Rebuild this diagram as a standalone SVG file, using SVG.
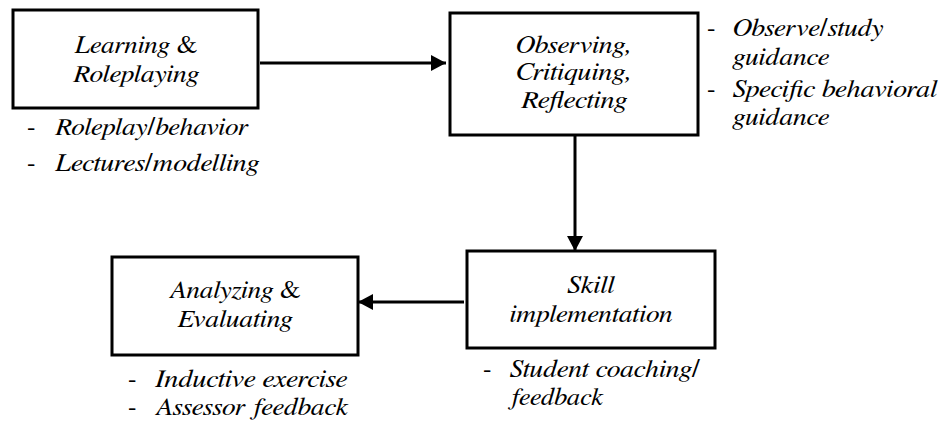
<svg xmlns="http://www.w3.org/2000/svg" width="945" height="423" viewBox="0 0 945 423">
<defs>
<style>
.box{fill:#fff;stroke:#000;stroke-width:3}
text{font-family:FreeSerif,'Liberation Serif','DejaVu Serif',serif;font-size:25px;fill:#000}
.t{font-style:italic}
.c{text-anchor:middle}
.u{font-style:normal}
.conn{stroke:#000;stroke-width:3;fill:none}
</style>
<marker id="ah" markerUnits="userSpaceOnUse" markerWidth="16" markerHeight="16" refX="15" refY="8" orient="auto">
<path d="M0,0 L15,8 L0,16 Z" fill="#000"/>
</marker>
</defs>
<rect width="945" height="423" fill="#fff"/>
<g id="connectors">
<line class="conn" x1="260" y1="63" x2="446" y2="63" marker-end="url(#ah)"/>
<line class="conn" x1="575" y1="135" x2="575" y2="251" marker-end="url(#ah)"/>
<line class="conn" x1="464" y1="302" x2="358" y2="302" marker-end="url(#ah)"/>
</g>
<g id="learning">
<rect class="box" x="13" y="10" width="245" height="98"/>
<text class="t c" x="136" y="53" textLength="123" lengthAdjust="spacingAndGlyphs">Learning <tspan class="u">&amp;</tspan></text>
<text class="t c" x="136" y="82" textLength="126" lengthAdjust="spacingAndGlyphs">Roleplaying</text>
<text x="27" y="135">-</text>
<text class="t" x="55" y="135" textLength="193" lengthAdjust="spacingAndGlyphs">Roleplay<tspan class="u">/</tspan>behavior</text>
<text x="27" y="171">-</text>
<text class="t" x="55" y="171" textLength="204" lengthAdjust="spacingAndGlyphs">Lectures<tspan class="u">/</tspan>modelling</text>
</g>
<g id="observing">
<rect class="box" x="450" y="13" width="248" height="122"/>
<text class="t c" x="574" y="53" textLength="116" lengthAdjust="spacingAndGlyphs">Observing,</text>
<text class="t c" x="574" y="80" textLength="116" lengthAdjust="spacingAndGlyphs">Critiquing,</text>
<text class="t c" x="574" y="108" textLength="106" lengthAdjust="spacingAndGlyphs">Reflecting</text>
<text x="707" y="36">-</text>
<text class="t" x="733" y="36" textLength="150" lengthAdjust="spacingAndGlyphs">Observe<tspan class="u">/</tspan>study</text>
<text class="t" x="733" y="65" textLength="96" lengthAdjust="spacingAndGlyphs">guidance</text>
<text x="707" y="97">-</text>
<text class="t" x="733" y="97" textLength="204" lengthAdjust="spacingAndGlyphs">Specific behavioral</text>
<text class="t" x="733" y="125" textLength="96" lengthAdjust="spacingAndGlyphs">guidance</text>
</g>
<g id="skill">
<rect class="box" x="467" y="251" width="248" height="97"/>
<text class="t c" x="591" y="293" textLength="47" lengthAdjust="spacingAndGlyphs">Skill</text>
<text class="t c" x="591" y="322" textLength="163" lengthAdjust="spacingAndGlyphs">implementation</text>
<text x="483" y="377">-</text>
<text class="t" x="510" y="377" textLength="190" lengthAdjust="spacingAndGlyphs">Student coaching<tspan class="u">/</tspan></text>
<text class="t" x="510" y="405" textLength="93" lengthAdjust="spacingAndGlyphs">feedback</text>
</g>
<g id="analyzing">
<rect class="box" x="112" y="257" width="246" height="98"/>
<text class="t c" x="235" y="298" textLength="132" lengthAdjust="spacingAndGlyphs">Analyzing <tspan class="u">&amp;</tspan></text>
<text class="t c" x="235" y="327" textLength="115" lengthAdjust="spacingAndGlyphs">Evaluating</text>
<text x="128" y="387">-</text>
<text class="t" x="155" y="387" textLength="192" lengthAdjust="spacingAndGlyphs">Inductive exercise</text>
<text x="128" y="415">-</text>
<text class="t" x="155" y="415" textLength="193" lengthAdjust="spacingAndGlyphs">Assessor feedback</text>
</g>
</svg>
